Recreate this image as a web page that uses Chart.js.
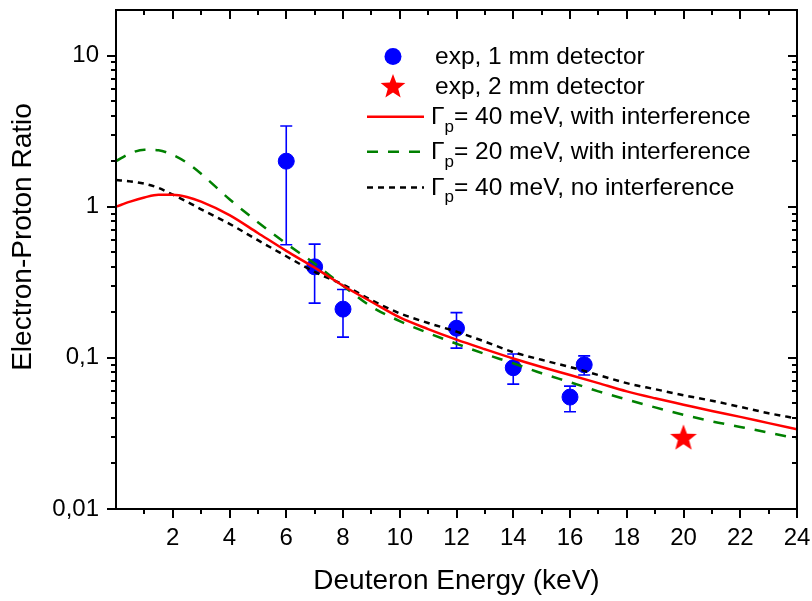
<!DOCTYPE html>
<html><head><meta charset="utf-8">
<script src="https://cdn.jsdelivr.net/npm/chart.js@4.4.1/dist/chart.umd.min.js"></script>
<style>html,body{margin:0;padding:0;background:#fff;overflow:hidden}</style>
</head><body>
<canvas id="c" width="812" height="601"></canvas>
<script>
const FONT = "'Liberation Sans', Arial, Helvetica, sans-serif";

// ---- data ----
const energyGrid = [0,0.5,1,1.5,2,2.5,3,4,5,6,7,8,9,10,11,12,13,14,15,16,17,18,19,20,21,22,23,24];
const ratio40With = [1.0,1.08,1.15,1.2,1.2,1.16,1.08,0.88,0.67,0.51,0.395,0.30,0.235,0.185,0.155,0.132,0.114,0.099,0.087,0.077,0.068,0.060,0.054,0.049,0.0445,0.0407,0.037,0.0337];
const ratio20With = [2.0,2.25,2.38,2.36,2.2,1.95,1.65,1.12,0.79,0.57,0.42,0.30,0.218,0.175,0.146,0.124,0.106,0.092,0.079,0.069,0.060,0.053,0.047,0.042,0.038,0.0349,0.032,0.0292];
const ratio40No = [1.5,1.47,1.42,1.33,1.2,1.08,0.96,0.77,0.60,0.47,0.37,0.305,0.241,0.197,0.17,0.149,0.128,0.109,0.097,0.087,0.077,0.068,0.062,0.0566,0.052,0.0474,0.043,0.0397];

const exp1Energy = [6,7,8,12,14,16,16.5];
const exp1Ratio  = [2.0,0.40,0.21,0.157,0.086,0.055,0.090];
const exp1Low    = [0.56,0.23,0.137,0.116,0.067,0.044,0.077];
const exp1High   = [3.42,0.565,0.283,0.199,0.106,0.065,0.103];

const exp2Energy = [20];
const exp2Ratio  = [0.030];

const xTickValues = [2,4,6,8,10,12,14,16,18,20,22,24];
const yTickValues = [0.01,0.1,1,10];
const yTickLabels = ['0,01','0,1','1','10'];

const seriesLabels = ['exp, 1 mm detector','exp, 2 mm detector','Γ_p= 40 meV, with interference','Γ_p= 20 meV, with interference','Γ_p= 40 meV, no interference'];
const xTitle = 'Deuteron Energy (keV)';
const yTitle = 'Electron-Proton Ratio';

// ---- helpers ----
function starPath(ctx, cx, cy, R, r) {
  ctx.beginPath();
  for (let i = 0; i < 10; i++) {
    const ang = -Math.PI/2 + i*Math.PI/5;
    const rad = i % 2 === 0 ? R : r;
    const px = cx + rad*Math.cos(ang), py = cy + rad*Math.sin(ang);
    if (i === 0) ctx.moveTo(px, py); else ctx.lineTo(px, py);
  }
  ctx.closePath();
}
function makeStar(R) {
  const c = document.createElement('canvas');
  const s = Math.ceil(R*2+2);
  c.width = s; c.height = s;
  const g = c.getContext('2d');
  g.fillStyle = '#ff0000';
  starPath(g, s/2, s/2 + R*0.1, R, R*0.42);
  g.fill();
  return c;
}
const starImg = makeStar(14);

const toXY = (xs, ys) => xs.map((v, i) => ({x: v, y: ys[i]}));

// ---- plugins ----
const errorBars = {
  id: 'errorBars',
  beforeDatasetsDraw(chart) {
    const {ctx, scales: {x, y}} = chart;
    ctx.save();
    ctx.strokeStyle = '#0000ff';
    ctx.lineWidth = 1.6;
    ctx.beginPath();
    exp1Energy.forEach((e, i) => {
      const px = x.getPixelForValue(e);
      const pl = y.getPixelForValue(exp1Low[i]);
      const ph = y.getPixelForValue(exp1High[i]);
      ctx.moveTo(px, pl); ctx.lineTo(px, ph);
      ctx.moveTo(px - 6, pl); ctx.lineTo(px + 6, pl);
      ctx.moveTo(px - 6, ph); ctx.lineTo(px + 6, ph);
    });
    ctx.stroke();
    ctx.restore();
  }
};

function seg(ctx, x1, y1, x2, y2) {
  ctx.beginPath(); ctx.moveTo(x1, y1); ctx.lineTo(x2, y2); ctx.stroke();
}

const frameTicks = {
  id: 'frameTicks',
  afterDraw(chart) {
    const {ctx, chartArea: a, scales: {x, y}} = chart;
    ctx.save();
    ctx.setLineDash([]);
    ctx.strokeStyle = '#000000';
    ctx.lineWidth = 2;
    ctx.lineCap = 'butt';
    for (let v = 1; v <= 24; v++) {
      const px = Math.round(x.getPixelForValue(v));
      const len = v % 2 === 0 ? 9 : 5;
      seg(ctx, px, a.bottom, px, a.bottom + len);
      if (v < 24) seg(ctx, px, a.top, px, a.top + len);
    }
    yTickValues.forEach(d => {
      for (let m = 1; m <= 9; m++) {
        const v = m * d;
        if (v > 19.9) continue;
        const py = Math.round(y.getPixelForValue(v));
        const len = m === 1 ? 9 : 5;
        seg(ctx, a.left, py, a.left - len, py);
        if (v > 0.0101) seg(ctx, a.right, py, a.right - len, py);
      }
    });
    ctx.strokeRect(a.left, a.top, a.right - a.left, a.bottom - a.top);
    ctx.restore();
  }
};

function drawRichText(ctx, text, x, y, size) {
  // "_c" renders c as subscript
  let cx = x;
  for (let i = 0; i < text.length; i++) {
    if (text[i] === '_' && i + 1 < text.length) {
      ctx.font = `${Math.round(size*0.68)}px ${FONT}`;
      ctx.fillText(text[i+1], cx, y + size*0.3);
      cx += ctx.measureText(text[i+1]).width;
      i++;
    } else {
      let j = i;
      while (j < text.length && text[j] !== '_') j++;
      const chunk = text.slice(i, j);
      ctx.font = `${size}px ${FONT}`;
      ctx.fillText(chunk, cx, y);
      cx += ctx.measureText(chunk).width;
      i = j - 1;
    }
  }
}

const customLegend = {
  id: 'customLegend',
  afterDraw(chart) {
    const {ctx} = chart;
    const ds = chart.data.datasets;
    const rows = [64, 93.5, 124.3, 159.3, 195];
    ctx.save();
    ctx.fillStyle = '#000';
    ctx.textBaseline = 'alphabetic';
    ds.forEach((d, i) => {
      const base = rows[i];
      const my = base - 7.5;
      if (d.legendKind === 'circle') {
        ctx.fillStyle = d.backgroundColor;
        ctx.beginPath(); ctx.arc(393, my, 8.5, 0, Math.PI*2); ctx.fill();
      } else if (d.legendKind === 'star') {
        ctx.fillStyle = '#ff0000';
        starPath(ctx, 393, my + 1, 13, 13*0.42); ctx.fill();
      } else {
        ctx.strokeStyle = d.borderColor;
        ctx.lineWidth = d.borderWidth;
        ctx.setLineDash(d.borderDash || []);
        ctx.beginPath(); ctx.moveTo(367, my); ctx.lineTo(424, my); ctx.stroke();
        ctx.setLineDash([]);
      }
      ctx.fillStyle = '#000';
      drawRichText(ctx, d.label, d.legendKind === 'circle' || d.legendKind === 'star' ? 435 : 431, base, 24.5);
    });
    ctx.restore();
  }
};

const yTitlePlugin = {
  id: 'yTitlePlugin',
  afterDraw(chart) {
    const {ctx} = chart;
    ctx.save();
    ctx.translate(23, 237);
    ctx.rotate(-Math.PI/2);
    ctx.font = `28px ${FONT}`;
    ctx.fillStyle = '#000';
    ctx.textAlign = 'center';
    ctx.textBaseline = 'middle';
    ctx.fillText(yTitle, 0, 0);
    ctx.restore();
  }
};

// ---- chart ----
const lineCommon = { showLine: true, pointRadius: 0, borderWidth: 2.5, cubicInterpolationMode: 'monotone', fill: false, order: 1 };

new Chart(document.getElementById('c'), {
  type: 'scatter',
  data: {
    datasets: [
      { label: seriesLabels[0], data: toXY(exp1Energy, exp1Ratio), legendKind: 'circle',
        backgroundColor: '#0000ff', borderColor: '#0000ff', pointRadius: 8, borderWidth: 1, pointHoverRadius: 8, order: 2 },
      { label: seriesLabels[1], data: toXY(exp2Energy, exp2Ratio), legendKind: 'star',
        pointStyle: starImg, backgroundColor: '#ff0000', borderColor: '#ff0000', order: 2 },
      Object.assign({ label: seriesLabels[2], data: toXY(energyGrid, ratio40With), legendKind: 'line',
        borderColor: '#ff0000', backgroundColor: '#ff0000' }, lineCommon),
      Object.assign({ label: seriesLabels[3], data: toXY(energyGrid, ratio20With), legendKind: 'line',
        borderColor: '#008000', backgroundColor: '#008000', borderDash: [11, 10] }, lineCommon),
      Object.assign({ label: seriesLabels[4], data: toXY(energyGrid, ratio40No), legendKind: 'line',
        borderColor: '#000000', backgroundColor: '#000000', borderDash: [6, 5] }, lineCommon)
    ]
  },
  options: {
    responsive: false,
    devicePixelRatio: 1,
    animation: false,
    events: [],
    layout: { padding: { top: 10, right: 15, bottom: 0, left: 0 } },
    plugins: { legend: { display: false }, tooltip: { enabled: false } },
    scales: {
      x: {
        type: 'linear', min: 0, max: 24,
        grid: { display: false, drawTicks: false },
        border: { display: false },
        afterBuildTicks: s => { s.ticks = xTickValues.map(v => ({ value: v })); },
        afterFit: s => { s.height = 92; s.paddingLeft = 0; s.paddingRight = 0; },
        ticks: { color: '#000', font: { family: FONT, size: 24 }, padding: 15, maxRotation: 0, autoSkip: false,
                 callback: v => String(v) },
        title: { display: true, text: xTitle, color: '#000', font: { family: FONT, size: 28 }, padding: { top: 0, bottom: 3 } }
      },
      y: {
        type: 'logarithmic', min: 0.01, max: 20,
        grid: { display: false, drawTicks: false },
        border: { display: false },
        afterBuildTicks: s => { s.ticks = yTickValues.map(v => ({ value: v })); },
        afterFit: s => { s.width = 116; s.paddingTop = 0; s.paddingBottom = 0; },
        ticks: { color: '#000', font: { family: FONT, size: 24 }, padding: 17, autoSkip: false,
                 callback: (v) => yTickLabels[yTickValues.indexOf(v)] ?? '' },
        title: { display: false }
      }
    }
  },
  plugins: [errorBars, frameTicks, customLegend, yTitlePlugin]
});
</script>
</body></html>
